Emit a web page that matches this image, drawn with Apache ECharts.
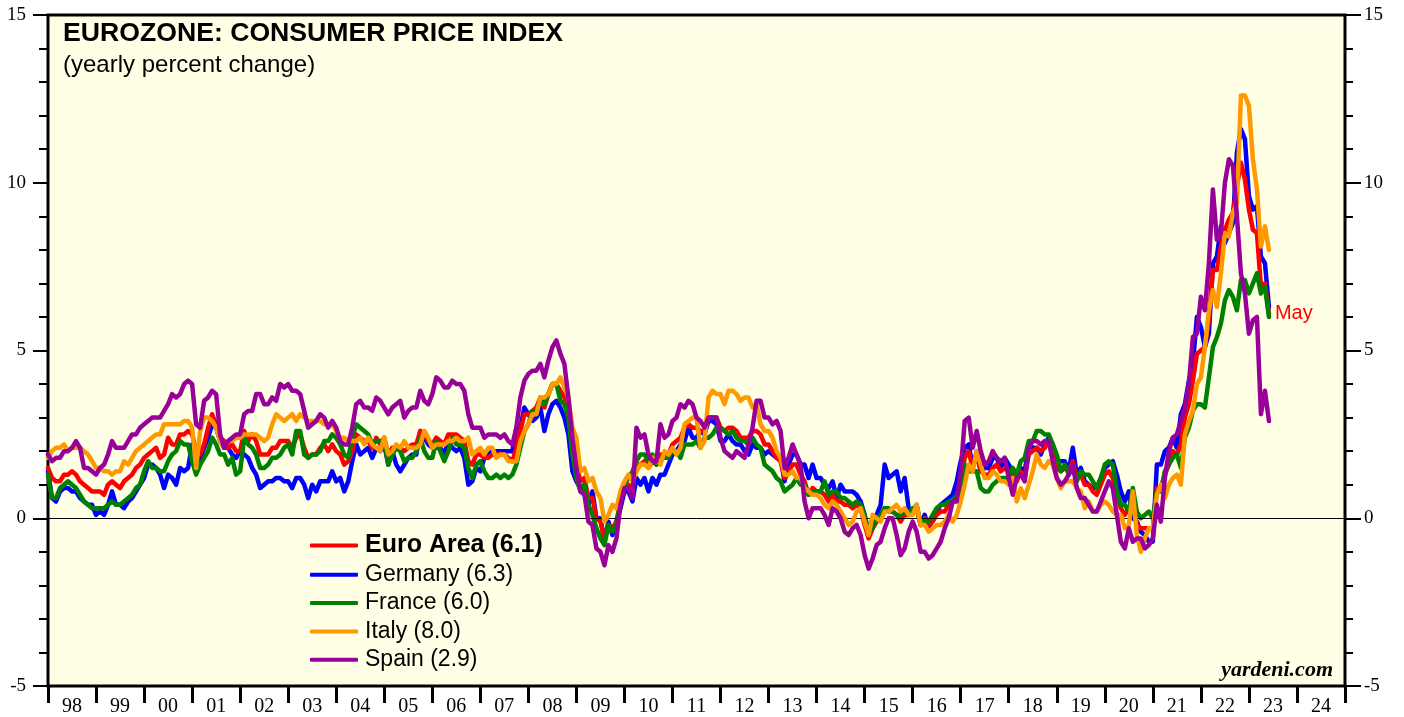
<!DOCTYPE html>
<html>
<head>
<meta charset="utf-8">
<script src="https://cdn.jsdelivr.net/npm/echarts@6/dist/echarts.min.js"></script>
<style>
html,body{margin:0;padding:0;background:#ffffff;}
#chart{width:1404px;height:717px;}
</style>
</head>
<body>
<div id="chart"></div>
<script>
// ---------- DATA (monthly, yearly % change; first value = Dec 1997, last = May 2023) ----------
const yearLabels = ['98','99','00','01','02','03','04','05','06','07','08','09','10','11','12','13','14','15','16','17','18','19','20','21','22','23','24'];
const monthNames = ['Jan','Feb','Mar','Apr','May','Jun','Jul','Aug','Sep','Oct','Nov','Dec'];
const seriesNames = ['Euro Area','Germany','France','Italy','Spain'];
const yTicks = [-5, 0, 5, 10, 15];

const euroArea = [1.5,
1.2,1.1,1.1,1.3,1.3,1.4,1.3,1.1,1.0,0.9,0.8,0.8,
0.8,0.7,1.0,1.1,1.0,0.9,1.1,1.2,1.3,1.5,1.6,1.8,
1.9,2.0,2.1,1.8,1.9,2.4,2.2,2.2,2.5,2.5,2.6,2.5,
2.0,1.9,2.2,2.7,3.1,2.8,2.4,2.3,2.1,2.2,2.0,2.0,
2.6,2.3,2.5,2.3,1.9,1.9,1.9,2.1,2.1,2.3,2.3,2.3,
2.1,2.4,2.5,2.1,1.8,1.9,1.9,2.1,2.2,2.0,2.2,2.0,
1.9,1.6,1.7,2.0,2.5,2.4,2.3,2.3,2.1,2.4,2.2,2.4,
1.9,2.1,2.1,2.1,2.0,2.1,2.2,2.2,2.6,2.5,2.3,2.2,
2.4,2.3,2.2,2.5,2.5,2.5,2.4,2.3,1.7,1.6,1.9,1.9,
1.8,1.8,1.9,1.9,1.9,1.9,1.8,1.7,2.1,2.6,3.1,3.1,
3.2,3.3,3.6,3.3,3.7,4.0,4.0,3.8,3.6,3.2,2.1,1.6,
1.1,1.2,0.6,0.6,0.0,-0.1,-0.6,-0.2,-0.3,-0.1,0.5,0.9,
1.0,0.9,1.6,1.6,1.7,1.5,1.7,1.6,1.9,1.9,1.9,2.2,
2.3,2.4,2.7,2.8,2.7,2.7,2.6,2.6,3.0,3.0,3.0,2.7,
2.6,2.7,2.7,2.6,2.4,2.4,2.4,2.6,2.6,2.5,2.2,2.2,
2.0,1.8,1.7,1.2,1.4,1.6,1.6,1.3,1.1,0.7,0.9,0.8,
0.8,0.7,0.5,0.7,0.5,0.5,0.4,0.4,0.3,0.4,0.3,-0.2,
-0.6,-0.3,-0.1,0.0,0.3,0.2,0.2,0.1,-0.1,0.1,0.1,0.2,
0.3,-0.2,0.0,-0.2,-0.1,0.1,0.2,0.2,0.4,0.5,0.6,1.1,
1.8,2.0,1.5,1.9,1.4,1.3,1.3,1.5,1.6,1.4,1.5,1.4,
1.3,1.1,1.4,1.2,1.9,2.0,2.1,2.0,2.1,2.3,1.9,1.5,
1.4,1.5,1.4,1.7,1.2,1.3,1.0,1.0,0.8,0.7,1.0,1.3,
1.4,1.2,0.7,0.3,0.1,0.3,0.4,-0.2,-0.3,-0.3,-0.3,-0.3,
0.9,0.9,1.3,1.6,2.0,1.9,2.2,3.0,3.4,4.1,4.9,5.0,
5.1,5.9,7.4,7.4,8.1,8.6,8.9,9.1,9.9,10.6,10.1,9.2,
8.6,8.5,6.9,7.0,6.1];

const germany = [1.4,
0.6,0.5,0.8,0.9,0.9,0.8,0.8,0.6,0.5,0.4,0.4,0.1,
0.2,0.1,0.4,0.8,0.4,0.4,0.3,0.5,0.6,0.8,1.0,1.2,
1.6,1.6,1.5,1.3,0.9,1.3,1.2,1.0,1.5,1.4,1.5,2.2,
1.4,1.8,2.1,2.4,2.8,2.7,2.3,2.1,2.1,1.9,1.8,2.0,
1.9,1.8,1.5,1.3,0.9,1.0,1.1,1.1,1.2,1.2,1.1,1.1,
0.9,1.2,1.2,1.0,0.6,1.0,0.8,1.1,1.1,1.1,1.4,1.1,
1.2,0.8,1.1,1.7,2.2,1.9,2.0,2.1,1.8,2.1,2.0,2.2,
1.6,2.0,1.6,1.4,1.6,1.8,1.9,1.9,2.6,2.4,2.2,2.1,
2.1,2.1,1.9,2.3,2.1,2.0,2.1,1.8,1.0,1.1,1.5,1.4,
1.8,1.9,2.0,2.0,2.0,2.0,2.0,2.0,2.7,2.7,3.3,3.1,
2.9,3.0,3.3,2.6,3.1,3.4,3.5,3.3,3.0,2.5,1.4,1.1,
0.9,1.0,0.4,0.8,0.0,0.0,-0.7,-0.1,-0.5,-0.1,0.3,0.8,
0.8,0.5,1.2,1.0,1.2,0.8,1.2,1.0,1.3,1.3,1.6,1.9,
2.0,2.2,2.3,2.7,2.4,2.4,2.6,2.5,2.9,2.9,2.8,2.3,
2.3,2.5,2.3,2.2,2.2,2.0,1.9,2.2,2.1,2.1,1.9,2.0,
1.9,1.8,1.8,1.1,1.6,1.9,1.9,1.6,1.6,1.2,1.6,1.2,
1.2,1.0,0.9,1.1,0.6,1.0,0.8,0.8,0.8,0.7,0.5,0.1,
-0.5,0.0,0.1,0.4,1.6,1.2,1.3,1.4,0.8,1.2,0.3,0.2,
0.4,-0.2,0.1,-0.3,0.0,0.2,0.4,0.5,0.6,0.7,1.1,1.7,
2.1,2.2,1.5,2.0,1.4,1.5,1.5,1.8,1.8,1.5,1.8,1.6,
1.4,1.2,1.5,1.4,2.2,2.1,2.1,1.9,2.2,2.4,2.2,1.7,
1.7,1.7,1.4,2.1,1.3,1.5,1.1,1.0,0.9,0.9,1.2,1.5,
1.6,1.7,1.3,0.8,0.5,0.8,0.0,-0.1,-0.4,-0.5,-0.7,-0.7,
1.6,1.6,2.0,2.1,2.4,2.1,3.1,3.4,4.1,4.6,6.0,5.7,
5.1,5.5,7.6,7.8,8.7,8.2,8.5,8.8,10.9,11.6,11.3,9.6,
9.2,9.3,7.8,7.6,6.3];

const france = [1.3,
0.6,0.6,0.9,1.0,1.1,1.0,0.9,0.7,0.5,0.4,0.3,0.3,
0.3,0.3,0.4,0.5,0.4,0.4,0.5,0.6,0.7,0.9,1.0,1.4,
1.7,1.5,1.5,1.4,1.4,1.7,1.9,2.0,2.3,2.2,2.2,1.7,
1.3,1.6,1.8,2.0,2.4,2.2,1.9,1.9,1.6,1.8,1.3,1.4,
2.4,2.2,2.1,1.9,1.5,1.5,1.6,1.8,1.8,1.9,2.1,2.2,
1.9,2.6,2.6,1.9,1.8,1.9,1.9,2.0,2.3,2.3,2.5,2.4,
2.2,1.9,1.8,2.4,2.8,2.7,2.6,2.5,2.2,2.3,2.3,2.3,
1.6,1.9,2.1,2.0,1.7,1.8,1.8,2.0,2.4,2.0,1.8,1.8,
2.3,2.0,1.7,2.0,2.4,2.2,2.2,2.1,1.5,1.2,1.6,1.7,
1.4,1.2,1.2,1.3,1.2,1.3,1.2,1.3,1.6,2.1,2.6,2.8,
3.2,3.2,3.5,3.4,3.7,4.0,4.0,3.5,3.4,3.0,1.9,1.2,
0.8,1.0,0.4,0.1,-0.3,-0.6,-0.8,-0.2,-0.4,-0.2,0.5,1.0,
1.2,1.4,1.7,1.9,1.9,1.7,1.9,1.6,1.8,1.8,1.8,2.0,
2.0,1.8,2.2,2.2,2.2,2.3,2.1,2.4,2.4,2.5,2.7,2.7,
2.6,2.5,2.6,2.4,2.3,2.3,2.2,2.4,2.2,2.1,1.6,1.5,
1.4,1.2,1.1,0.8,0.9,1.0,1.2,1.0,1.0,0.7,0.8,0.8,
0.8,1.1,0.7,0.8,0.8,0.6,0.6,0.5,0.4,0.5,0.4,0.1,
-0.4,-0.3,0.0,0.1,0.3,0.3,0.2,0.1,0.1,0.2,0.1,0.3,
0.3,-0.1,-0.1,-0.1,0.1,0.3,0.4,0.4,0.5,0.5,0.7,0.8,
1.6,1.4,1.4,1.4,0.9,0.8,0.8,1.0,1.1,1.2,1.2,1.2,
1.5,1.3,1.7,1.8,2.3,2.3,2.6,2.6,2.5,2.5,2.2,1.9,
1.4,1.6,1.3,1.5,1.1,1.4,1.3,1.3,1.1,0.9,1.2,1.6,
1.7,1.6,0.8,0.4,0.4,0.2,0.9,0.2,0.0,0.1,0.2,0.0,
0.8,0.8,1.4,1.6,1.8,1.9,1.5,2.4,2.7,3.2,3.4,3.4,
3.3,4.2,5.1,5.4,5.8,6.5,6.8,6.6,6.2,7.1,7.1,6.7,
7.0,7.3,6.7,6.9,6.0];

const italy = [1.8,
2.0,2.1,2.1,2.2,2.0,2.1,2.1,2.1,2.0,1.9,1.7,1.5,
1.5,1.4,1.4,1.3,1.4,1.4,1.7,1.6,1.8,2.0,2.1,2.2,
2.3,2.4,2.5,2.5,2.8,2.8,2.8,2.8,2.8,2.9,2.9,2.7,
1.5,2.6,3.0,3.0,2.9,2.7,2.3,2.1,2.3,2.3,2.4,2.4,
2.5,2.5,2.5,2.5,2.4,2.3,2.4,2.8,3.1,3.0,2.9,3.0,
3.1,2.9,3.1,3.0,2.9,2.9,2.9,2.9,2.8,2.8,2.8,2.6,
2.4,2.4,2.3,2.3,2.3,2.4,2.2,2.4,2.2,2.1,2.0,2.4,
1.9,2.0,2.2,2.1,2.3,2.1,2.1,2.1,2.2,2.6,2.4,2.1,
2.2,2.2,2.2,2.3,2.3,2.4,2.3,2.3,2.4,1.9,2.0,2.1,
1.9,2.1,2.1,1.8,1.9,1.9,1.7,1.7,1.7,2.3,2.6,2.8,
3.1,3.1,3.6,3.6,3.7,4.0,4.0,4.2,3.9,3.6,2.7,2.4,
1.4,1.5,1.1,1.2,0.8,0.6,-0.1,0.1,0.4,0.3,0.8,1.1,
1.3,1.1,1.4,1.6,1.6,1.5,1.8,1.8,1.6,2.0,1.9,2.1,
1.9,2.1,2.8,2.9,3.0,3.0,2.1,2.3,3.6,3.8,3.7,3.7,
3.4,3.8,3.8,3.7,3.5,3.6,3.6,3.3,3.4,2.8,2.6,2.6,
2.4,2.0,1.8,1.3,1.3,1.4,1.2,1.2,0.9,0.8,0.7,0.7,
0.6,0.4,0.3,0.5,0.4,0.2,0.0,-0.2,-0.1,0.2,0.3,-0.1,
-0.5,0.1,0.0,-0.1,0.2,0.2,0.3,0.4,0.2,0.3,0.1,0.1,
0.4,-0.2,-0.2,-0.4,-0.3,-0.2,-0.2,-0.1,0.1,-0.1,0.1,0.5,
1.0,1.6,1.4,2.0,1.6,1.2,1.2,1.4,1.3,1.1,1.1,1.0,
1.2,0.5,0.9,0.6,1.0,1.4,1.9,1.6,1.5,1.7,1.6,1.2,
0.9,1.1,1.1,1.1,0.9,0.8,0.3,0.5,0.2,0.2,0.4,0.5,
0.4,0.2,0.1,0.1,-0.3,-0.2,0.8,-0.5,-1.0,-0.6,-0.3,-0.3,
0.7,1.0,0.6,1.0,1.2,1.3,1.0,2.5,2.9,3.2,4.0,4.2,
5.1,6.2,6.8,6.3,7.3,8.5,8.4,9.1,9.4,12.6,12.6,12.3,
10.7,9.8,8.1,8.7,8.0];

const spain = [1.9,
1.7,1.8,1.8,2.0,2.0,2.1,2.3,2.1,1.5,1.5,1.4,1.3,
1.5,1.6,1.9,2.3,2.1,2.1,2.1,2.3,2.5,2.5,2.7,2.8,
2.9,3.0,3.0,3.0,3.2,3.4,3.7,3.6,3.7,4.0,4.1,4.0,
2.8,2.7,3.5,3.6,3.8,3.7,2.5,2.1,2.3,2.4,2.5,2.5,
3.1,3.2,3.2,3.7,3.7,3.4,3.4,3.6,3.5,4.0,3.9,4.0,
3.8,3.8,3.7,3.2,2.7,2.8,2.9,3.1,3.0,2.7,2.9,2.7,
2.3,2.2,2.2,2.7,3.4,3.5,3.3,3.3,3.2,3.6,3.5,3.3,
3.1,3.3,3.4,3.5,3.0,3.2,3.3,3.3,3.8,3.5,3.4,3.7,
4.2,4.1,3.9,3.9,4.1,4.0,4.0,3.8,3.1,2.7,2.7,2.7,
2.4,2.5,2.5,2.5,2.4,2.5,2.3,2.2,2.7,3.6,4.1,4.3,
4.4,4.4,4.6,4.2,4.7,5.1,5.3,4.9,4.6,3.6,2.4,1.5,
0.8,0.7,-0.1,-0.2,-0.9,-1.0,-1.4,-0.8,-1.0,-0.6,0.4,0.9,
0.9,0.6,2.7,2.4,2.5,1.9,1.7,1.7,2.8,2.4,2.5,2.9,
3.0,3.4,3.3,3.5,3.4,3.0,2.9,2.7,3.0,3.0,3.0,2.4,
2.0,1.9,1.8,2.0,1.9,1.8,2.2,2.7,3.5,3.5,3.0,3.0,
2.8,2.9,2.6,1.5,1.8,2.2,1.9,1.6,0.5,0.0,0.3,0.3,
0.3,0.1,-0.2,0.3,0.2,0.0,-0.4,-0.5,-0.3,-0.2,-0.5,-1.1,
-1.5,-1.2,-0.8,-0.7,-0.3,0.0,0.0,-0.5,-1.1,-0.9,-0.4,-0.1,
-0.4,-1.0,-1.0,-1.2,-1.1,-0.9,-0.7,-0.3,0.0,0.5,0.5,1.4,
2.9,3.0,2.1,2.6,2.0,1.6,1.7,2.0,1.8,1.7,1.8,1.2,
0.7,1.2,1.3,1.1,2.1,2.3,2.3,2.2,2.3,2.3,1.7,1.2,
1.0,1.1,1.3,1.6,0.9,0.6,0.6,0.4,0.2,0.2,0.5,0.8,
1.1,0.9,0.1,-0.7,-0.9,-0.3,-0.7,-0.6,-0.6,-0.9,-0.8,-0.6,
0.4,-0.1,1.2,2.0,2.4,2.5,2.9,3.3,4.0,5.4,5.5,6.6,
6.2,7.6,9.8,8.3,8.5,10.0,10.7,10.5,9.0,7.3,6.7,5.5,
5.9,6.0,3.1,3.8,2.9];

// ---------- STYLES ----------
const seriesColors = ['#FF0000','#0000FF','#008000','#FF9900','#990099'];
const seriesZ = [3, 2, 4, 5, 6];
const allValues = [euroArea, germany, france, italy, spain];

const lastIdx = euroArea.length - 1;            // index 0 = Dec 1997
const lastMonthName = monthNames[(lastIdx + 11) % 12];

const fullNames = seriesNames.map((n, i) => n + ' (' + allValues[i][allValues[i].length - 1].toFixed(1) + ')');

const series = allValues.map((vals, i) => {
  const s = {
    name: fullNames[i],
    type: 'line',
    xAxisIndex: 0,
    yAxisIndex: 0,
    data: vals.map((v, k) => [k, v]),
    showSymbol: false,
    symbol: 'none',
    smooth: false,
    z: seriesZ[i],
    lineStyle: { color: seriesColors[i], width: 4.5, cap: 'round', join: 'round' },
    itemStyle: { color: seriesColors[i] },
    animation: false,
    silent: true
  };
  if (i === 0) {
    s.endLabel = {
      show: true,
      formatter: lastMonthName,
      color: '#FF0000',
      fontFamily: 'Liberation Sans',
      fontSize: 20,
      distance: 6
    };
  }
  if (i === 1) {
    s.markLine = {
      silent: true,
      symbol: 'none',
      label: { show: false },
      lineStyle: { color: '#000', width: 1, type: 'solid' },
      data: [{ yAxis: 0 }],
      animation: false
    };
  }
  return s;
});

const axisLabelY = { fontFamily: 'Liberation Serif', fontSize: 19, color: '#000' };

const option = {
  backgroundColor: '#ffffff',
  animation: false,
  grid: {
    left: 48, right: 59, top: 15, bottom: 31,
    show: true,
    backgroundColor: '#FFFFE5',
    borderColor: '#000',
    borderWidth: 3,
    containLabel: false
  },
  xAxis: [
    {
      type: 'value', min: 0, max: yearLabels.length * 12,
      show: false
    },
    {
      type: 'category', data: yearLabels, boundaryGap: true, position: 'bottom',
      axisLine: { show: false, onZero: false },
      axisTick: { show: true, length: 17, lineStyle: { color: '#000', width: 3 } },
      axisLabel: { fontFamily: 'Liberation Serif', fontSize: 20, color: '#000', margin: 11, interval: 0 },
      splitLine: { show: false }
    }
  ],
  yAxis: [
    {
      type: 'value', min: yTicks[0], max: yTicks[yTicks.length - 1], interval: 5, position: 'left',
      axisLine: { show: false },
      axisTick: { show: true, length: 15, lineStyle: { color: '#000', width: 2 } },
      minorTick: { show: true, splitNumber: 5, length: 9, lineStyle: { color: '#000', width: 2 } },
      axisLabel: Object.assign({ margin: 22 }, axisLabelY),
      splitLine: { show: false }
    },
    {
      type: 'value', min: yTicks[0], max: yTicks[yTicks.length - 1], interval: 5, position: 'right',
      axisLine: { show: false },
      axisTick: { show: true, length: 16, lineStyle: { color: '#000', width: 2 } },
      minorTick: { show: true, splitNumber: 5, length: 8, lineStyle: { color: '#000', width: 2 } },
      axisLabel: Object.assign({ margin: 19 }, axisLabelY),
      splitLine: { show: false }
    }
  ],
  legend: {
    orient: 'vertical',
    left: 305,
    top: 528,
    itemWidth: 48,
    itemHeight: 4,
    itemGap: 5.3,
    icon: 'roundRect',
    selectedMode: false,
    data: fullNames,
    formatter: function (name) {
      return name === fullNames[0] ? '{b|' + name + '}' : '{r|' + name + '}';
    },
    textStyle: {
      color: '#000',
      padding: [0, 0, 0, 2],
      rich: {
        b: { fontFamily: 'Liberation Sans', fontWeight: 'bold', fontSize: 25, color: '#000' },
        r: { fontFamily: 'Liberation Sans', fontSize: 23, color: '#000' }
      }
    }
  },
  graphic: [
    {
      type: 'text', left: 63, top: 22, scaleX: 1.065,
      style: { text: 'EUROZONE: CONSUMER PRICE INDEX', font: 'bold 25px "Liberation Sans"', fill: '#000' }
    },
    {
      type: 'text', left: 63, top: 53,
      style: { text: '(yearly percent change)', font: '24px "Liberation Sans"', fill: '#000' }
    },
    {
      type: 'text', right: 71, top: 659,
      style: { text: 'yardeni.com', font: 'italic bold 22px "Liberation Serif"', fill: '#000' }
    }
  ],
  series: series
};

const chart = echarts.init(document.getElementById('chart'), null, { renderer: 'canvas' });
chart.setOption(option);
</script>
</body>
</html>
